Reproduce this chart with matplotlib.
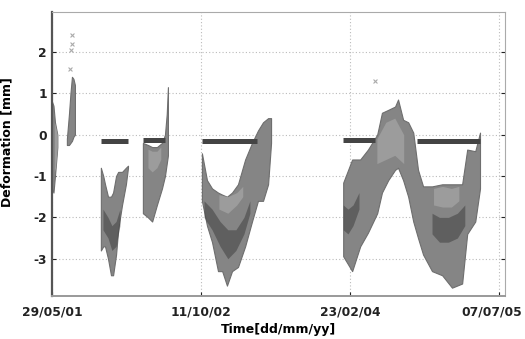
import numpy as np
import pandas as pd
import matplotlib
matplotlib.use("Agg")
import matplotlib.pyplot as plt
import matplotlib.dates as mdates
import matplotlib.transforms as mtransforms

plt.rcParams["axes.unicode_minus"] = False

start = pd.Timestamp("2001-05-29")

# measurement campaigns: envelope of all sensors (days from 29/05/01, mm)
env_days = [
    [0, 5, 10, 18],
    [50, 57, 62, 67, 72, 77],
    [164, 172, 178, 188, 198, 205, 215, 222, 235, 248, 255],
    [305, 322, 336, 352, 369, 379, 385, 389],
    [503, 520, 537, 557, 571, 587, 604, 624, 648, 671, 691, 708, 725, 735],
    [977, 1007, 1034, 1060, 1091, 1107, 1128, 1151, 1161, 1178, 1195, 1212, 1228,
     1245, 1275, 1309, 1342, 1376, 1393, 1420, 1436],
]
env_upper = [
    [0.8, 0.7, 0.3, 0.0],
    [-0.1, 0.5, 1.0, 1.4, 1.35, 1.2],
    [-0.8, -1.0, -1.2, -1.5, -1.5, -1.4, -1.0, -0.9, -0.9, -0.8, -0.75],
    [-0.2, -0.25, -0.3, -0.3, -0.2, 0.0, 0.5, 1.15],
    [-0.45, -1.1, -1.3, -1.4, -1.45, -1.5, -1.4, -1.2, -0.6, -0.2, 0.1, 0.3, 0.4, 0.4],
    [-1.16, -0.6, -0.6, -0.36, 0.0, 0.53, 0.6, 0.68, 0.85, 0.36, 0.3, 0.05, -0.85,
     -1.25, -1.25, -1.2, -1.2, -1.2, -0.36, -0.4, 0.05],
]
env_lower = [
    [-1.3, -1.4, -1.0, -0.3],
    [-0.25, -0.25, -0.2, -0.15, -0.05, 0.0],
    [-2.8, -2.7, -2.7, -3.0, -3.4, -3.4, -2.9, -2.3, -1.7, -1.2, -0.8],
    [-1.9, -2.0, -2.1, -1.7, -1.3, -1.0, -0.7, -0.5],
    [-1.6, -2.2, -2.6, -3.3, -3.3, -3.65, -3.3, -3.2, -2.7, -2.1, -1.6, -1.6, -1.2, -0.2],
    [-2.94, -3.3, -2.7, -2.37, -1.9, -1.4, -1.1, -0.85, -0.8, -1.1, -1.5, -2.1, -2.5,
     -2.9, -3.3, -3.4, -3.7, -3.6, -2.4, -2.1, -1.3],
]

# lighter readings near the top of the bands
light_days = [
    [8, 12, 18],
    [322, 336, 352, 365],
    [560, 590, 620, 640],
    [1090, 1120, 1150, 1180],
    [1280, 1310, 1340, 1365],
]
light_upper = [
    [0.3, 0.2, 0.0],
    [-0.35, -0.4, -0.4, -0.3],
    [-1.45, -1.5, -1.4, -1.25],
    [-0.1, 0.3, 0.4, 0.0],
    [-1.3, -1.25, -1.3, -1.25],
]
light_lower = [
    [-0.9, -0.8, -0.3],
    [-0.8, -0.9, -0.8, -0.6],
    [-1.8, -1.9, -1.7, -1.5],
    [-0.7, -0.6, -0.5, -0.7],
    [-1.7, -1.75, -1.75, -1.6],
]

# dark core of the densest readings
core_days = [
    [171, 188, 201, 215, 228],
    [510, 537, 564, 590, 617, 644, 664],
    [977, 993, 1010, 1030],
    [1275, 1300, 1330, 1360, 1385],
]
core_upper = [
    [-1.8, -2.0, -2.2, -2.1, -1.8],
    [-1.6, -1.8, -2.1, -2.3, -2.3, -2.0, -1.6],
    [-1.7, -1.8, -1.7, -1.4],
    [-1.9, -2.0, -2.0, -1.9, -1.7],
]
core_lower = [
    [-2.3, -2.5, -2.8, -2.7, -2.2],
    [-2.0, -2.3, -2.7, -3.0, -2.8, -2.4, -1.9],
    [-2.3, -2.4, -2.2, -1.8],
    [-2.4, -2.6, -2.6, -2.5, -2.2],
]

# reference sensor, nearly constant level
flat_start = [164, 305, 503, 977, 1225]
flat_end = [255, 379, 688, 1085, 1436]
flat_level = [-0.15, -0.13, -0.16, -0.12, -0.16]

# isolated outliers
out_days = [62, 64, 66, 67, 1084]
out_vals = [1.6, 2.05, 2.2, 2.4, 1.3]

tick_dates = ["2001-05-29", "2002-10-11", "2004-02-23", "2005-07-07"]


def to_dates(days):
    return start + pd.to_timedelta(days, unit="D")


fig, ax = plt.subplots(figsize=(5.25, 3.39), dpi=100)
fig.subplots_adjust(left=0.099, right=0.962, top=0.965, bottom=0.127)

for d, up, lo in zip(env_days, env_upper, env_lower):
    ax.fill_between(to_dates(d), lo, up, color="#858585", lw=0.8, ec="#6e6e6e", zorder=2)

for d, up, lo in zip(light_days, light_upper, light_lower):
    ax.fill_between(to_dates(d), lo, up, color="#9c9c9c", lw=0, zorder=3)

for d, up, lo in zip(core_days, core_upper, core_lower):
    ax.fill_between(to_dates(d), lo, up, color="#3a3a3a", alpha=0.5, lw=0, zorder=3)

for a, b, lev in zip(flat_start, flat_end, flat_level):
    ax.plot(to_dates([a, b]), [lev, lev], color="#444444", lw=3.6, solid_capstyle="butt", zorder=4)

ax.scatter(to_dates(out_days), out_vals, marker="x", s=8, color="#aaaaaa", lw=0.8, zorder=4)

ax.set_xlim(to_dates(0), to_dates(1520))
ax.set_ylim(-3.9, 2.97)
ax.set_xticks(pd.to_datetime(tick_dates))
ax.xaxis.set_major_formatter(mdates.DateFormatter("%d/%m/%y"))
ax.set_yticks([-3, -2, -1, 0, 1, 2])

ax.grid(True, color="#bbbbbb", ls=(0, (1, 2)), lw=0.8)
ax.tick_params(direction="in", length=3, labelsize=8.8, colors="#222222", right=True, top=False)
ax.tick_params(axis="x", pad=7)
for lab in ax.get_xticklabels() + ax.get_yticklabels():
    lab.set_fontweight("bold")
# keep the last date label inside the figure
last = ax.get_xticklabels()[-1]
last.set_transform(last.get_transform() + mtransforms.ScaledTranslation(-5 / 72, 0, fig.dpi_scale_trans))

for s in ax.spines.values():
    s.set_color("#aaaaaa")
ax.spines["left"].set_color("#555555")
ax.spines["left"].set_linewidth(1.6)
ax.spines["bottom"].set_color("#999999")
ax.spines["bottom"].set_linewidth(1.4)

ax.set_xlabel("Time[dd/mm/yy]", fontsize=9, fontweight="bold", labelpad=3)
ax.set_ylabel("Deformation [mm]", fontsize=9, fontweight="bold", labelpad=8)
ax.yaxis.set_label_coords(-0.085, 0.54)

fig.savefig("out.png", dpi=100)
